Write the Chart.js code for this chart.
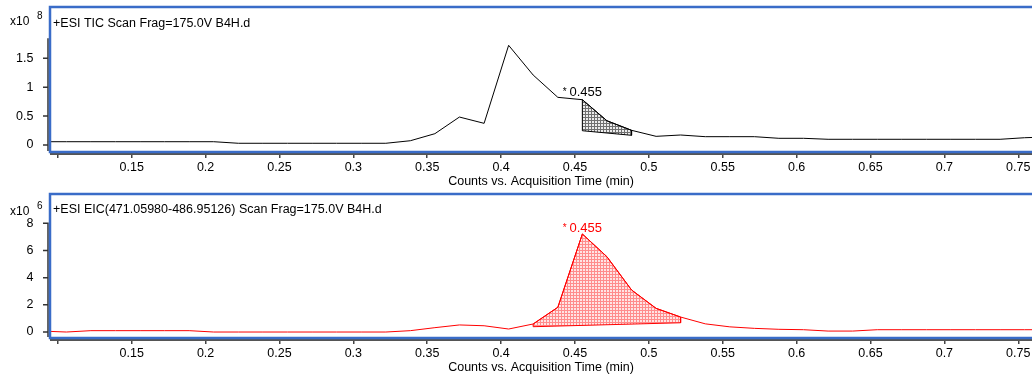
<!DOCTYPE html>
<html>
<head>
<meta charset="utf-8">
<script src="https://cdn.jsdelivr.net/npm/chart.js@4.4.0/dist/chart.umd.min.js"></script>
<style>
  html, body { margin: 0; padding: 0; background: #fff; overflow: hidden; }
  .panel { position: absolute; left: 0; width: 1032px; }
  #p1 { top: 0; height: 190px; }
  #p2 { top: 190px; height: 187px; }
</style>
</head>
<body>
<div class="panel" id="p1"><canvas id="ticChart"></canvas></div>
<div class="panel" id="p2"><canvas id="eicChart"></canvas></div>
<script>
// acquisition times (min), same scans for both traces
const times = [0.0891, 0.1058, 0.1224, 0.1390, 0.1557, 0.1723, 0.1889, 0.2055, 0.2222, 0.2388,
  0.2554, 0.2721, 0.2887, 0.3053, 0.3220, 0.3386, 0.3552, 0.3718, 0.3885, 0.4051,
  0.4217, 0.4384, 0.4550, 0.4716, 0.4883, 0.5049, 0.5215, 0.5382, 0.5548, 0.5714,
  0.5880, 0.6047, 0.6213, 0.6379, 0.6546, 0.6712, 0.6878, 0.7044, 0.7211, 0.7377,
  0.7543, 0.7710];

// TIC counts, x10^8
const ticCounts = [0.057, 0.057, 0.057, 0.057, 0.057, 0.057, 0.057, 0.057, 0.030, 0.030,
  0.030, 0.030, 0.030, 0.030, 0.030, 0.074, 0.196, 0.484, 0.375, 1.725,
  1.211, 0.825, 0.784, 0.420, 0.254, 0.150, 0.173, 0.144, 0.144, 0.144,
  0.116, 0.116, 0.099, 0.099, 0.099, 0.099, 0.099, 0.099, 0.099, 0.099,
  0.126, 0.140];

// EIC counts, x10^6
const eicCounts = [0.07, 0.00, 0.10, 0.10, 0.10, 0.10, 0.10, 0.00, 0.00, 0.00,
  0.00, 0.00, 0.00, 0.00, 0.00, 0.10, 0.32, 0.52, 0.46, 0.22,
  0.59, 1.82, 7.21, 5.54, 3.09, 1.74, 1.10, 0.60, 0.38, 0.27,
  0.20, 0.17, 0.07, 0.07, 0.17, 0.17, 0.17, 0.17, 0.17, 0.17,
  0.17, 0.17];

// integrated peaks: [start, end] time, baseline [at start, at end], apex label
const ticPeakRange = [0.4550, 0.4883];
const ticPeakBase = [0.247, 0.168];
const eicPeakRange = [0.4217, 0.5215];
const eicPeakBase = [0.39, 0.68];
const peakRT = 0.455;

const xTicks = [0.1, 0.15, 0.2, 0.25, 0.3, 0.35, 0.4, 0.45, 0.5, 0.55, 0.6, 0.65, 0.7, 0.75];
const xTickLabels = ['', '0.15', '0.2', '0.25', '0.3', '0.35', '0.4', '0.45', '0.5', '0.55', '0.6', '0.65', '0.7', '0.75'];
const ticYTicks = [0, 0.5, 1, 1.5];
const ticYLabels = ['0', '0.5', '1', '1.5'];
const eicYTicks = [0, 2, 4, 6, 8];
const eicYLabels = ['0', '2', '4', '6', '8'];

const FONT = 'Liberation Sans, Arial, sans-serif';

function hatch(bg, fg) {
  const c = document.createElement('canvas');
  c.width = 3; c.height = 3;
  const g = c.getContext('2d');
  g.fillStyle = bg; g.fillRect(0, 0, 3, 3);
  g.fillStyle = fg; g.fillRect(0, 0, 3, 1); g.fillRect(0, 0, 1, 3);
  return g.createPattern(c, 'repeat');
}

function points(ts, ys) {
  let pts = [];
  for (let i = 0; i < ts.length; i++) pts.push({x: ts[i], y: ys[i]});
  return pts;
}

// closed outline: trace between start/end, then back along the baseline
function peakShape(ts, ys, range, base) {
  let pts = [];
  for (let i = 0; i < ts.length; i++) {
    if (ts[i] >= range[0] - 1e-6 && ts[i] <= range[1] + 1e-6) pts.push({x: ts[i], y: ys[i]});
  }
  pts.push({x: range[1], y: base[1]});
  pts.push({x: range[0], y: base[0]});
  pts.push({x: pts[0].x, y: pts[0].y});
  return pts;
}

const msDecor = {
  id: 'msDecor',
  afterDatasetsDraw(chart, args, o) {
    const ctx = chart.ctx, a = chart.chartArea;
    const xs = chart.scales.x, ys = chart.scales.y;
    ctx.save();
    // y axis line + ticks
    ctx.strokeStyle = '#333'; ctx.lineWidth = 1.5;
    const yTop = ys.getPixelForValue(o.axisTop);
    ctx.beginPath();
    ctx.moveTo(a.left - 2, yTop); ctx.lineTo(a.left - 2, a.bottom - 1);
    ys.ticks.forEach(t => {
      const py = ys.getPixelForValue(t.value);
      ctx.moveTo(a.left - 7, py); ctx.lineTo(a.left - 2, py);
    });
    ctx.stroke();
    // x axis line
    ctx.strokeStyle = '#555'; ctx.lineWidth = 2;
    ctx.beginPath();
    ctx.moveTo(a.left, a.bottom + 2); ctx.lineTo(a.right, a.bottom + 2);
    ctx.stroke();
    // blue frame
    ctx.strokeStyle = '#3a6cc8'; ctx.lineWidth = 2.5;
    ctx.beginPath();
    ctx.moveTo(a.right + 5, a.top); ctx.lineTo(a.left, a.top);
    ctx.lineTo(a.left, a.bottom); ctx.lineTo(a.right + 5, a.bottom);
    ctx.stroke();
    // panel caption
    ctx.fillStyle = '#000';
    ctx.textBaseline = 'alphabetic';
    ctx.font = '12.5px ' + FONT;
    ctx.fillText(o.caption, a.left + 3, o.captionY);
    // exponent
    ctx.font = '12px ' + FONT;
    ctx.fillText('x10', 10, o.expY);
    ctx.font = '10px ' + FONT;
    ctx.fillText(o.exp, 37, o.expY - 6.5);
    // peak label above apex
    const ds = chart.data.datasets[0].data;
    let apex = ds.reduce((m, p) => Math.abs(p.x - o.rt) < Math.abs(m.x - o.rt) ? p : m);
    const px = xs.getPixelForValue(apex.x), py = ys.getPixelForValue(apex.y) - o.labelGap;
    ctx.fillStyle = o.labelColor;
    ctx.font = '10px ' + FONT;
    const starW = ctx.measureText('* ').width;
    ctx.font = '13px ' + FONT;
    const txt = o.rt.toFixed(3);
    const w = starW + ctx.measureText(txt).width;
    ctx.fillText(txt, px - w / 2 + starW, py);
    ctx.font = '10px ' + FONT;
    ctx.fillText('* ', px - w / 2, py - 1);
    ctx.restore();
  }
};

function makeChart(id, ys, range, base, color, fillPat, edge, yMin, yMax, yTicks, yLabels, deco, padTop, xHeight, titlePad) {
  return new Chart(document.getElementById(id), {
    type: 'line',
    data: {
      datasets: [{
        data: points(times, ys),
        borderColor: color,
        borderWidth: 1,
        pointRadius: 0,
        tension: 0,
        fill: false
      }, {
        data: peakShape(times, ys, range, base),
        borderColor: edge,
        borderWidth: 1,
        backgroundColor: fillPat,
        pointRadius: 0,
        tension: 0,
        fill: 'shape'
      }]
    },
    options: {
      responsive: true,
      maintainAspectRatio: false,
      animation: false,
      layout: { padding: { top: padTop, right: 0, left: 0, bottom: 0 } },
      plugins: { legend: { display: false }, tooltip: { enabled: false }, msDecor: deco },
      scales: {
        x: {
          type: 'linear',
          min: 0.09472,
          max: 0.7593,
          afterFit: s => { s.height = xHeight; s.paddingLeft = 0; s.paddingRight = 0; },
          afterBuildTicks: s => { s.ticks = xTicks.map(v => ({value: v})); },
          border: { display: false },
          grid: { drawOnChartArea: false, drawTicks: true, tickLength: 6, color: '#444', lineWidth: 1.5 },
          ticks: {
            autoSkip: false, maxRotation: 0, padding: 2, color: '#000',
            font: { family: FONT, size: 12.5 },
            callback: (v, i) => xTickLabels[i]
          },
          title: {
            display: true, text: 'Counts vs. Acquisition Time (min)', color: '#000',
            font: { family: FONT, size: 12.5 }, padding: { top: 0, bottom: titlePad }
          }
        },
        y: {
          min: yMin,
          max: yMax,
          afterFit: s => { s.width = 50; s.paddingTop = 0; s.paddingBottom = 0; },
          afterBuildTicks: s => { s.ticks = yTicks.map(v => ({value: v})); },
          border: { display: false },
          grid: { display: false },
          ticks: {
            padding: 8.5, color: '#000',
            font: { family: FONT, size: 12.5 },
            callback: (v, i) => yLabels[i]
          }
        }
      }
    },
    plugins: [msDecor]
  });
}

makeChart('ticChart', ticCounts, ticPeakRange, ticPeakBase, '#000', hatch('#ececec', '#707070'), '#000',
  -0.121, 2.388, ticYTicks, ticYLabels,
  { caption: '+ESI TIC Scan Frag=175.0V B4H.d', captionY: 27, expY: 25, exp: '8', axisTop: 1.846, rt: peakRT, labelColor: '#000', labelGap: 4 },
  7, 38, 0.5);

makeChart('eicChart', eicCounts, eicPeakRange, eicPeakBase, '#ff0000', hatch('#ffe4e4', '#ff8c8c'), '#ff0000',
  -0.44, 10.15, eicYTicks, eicYLabels,
  { caption: '+ESI EIC(471.05980-486.95126) Scan Frag=175.0V B4H.d', captionY: 22.5, expY: 25, exp: '6', axisTop: 8.05, rt: peakRT, labelColor: '#ff0000', labelGap: 2 },
  4, 39, 1.5);
</script>
</body>
</html>
